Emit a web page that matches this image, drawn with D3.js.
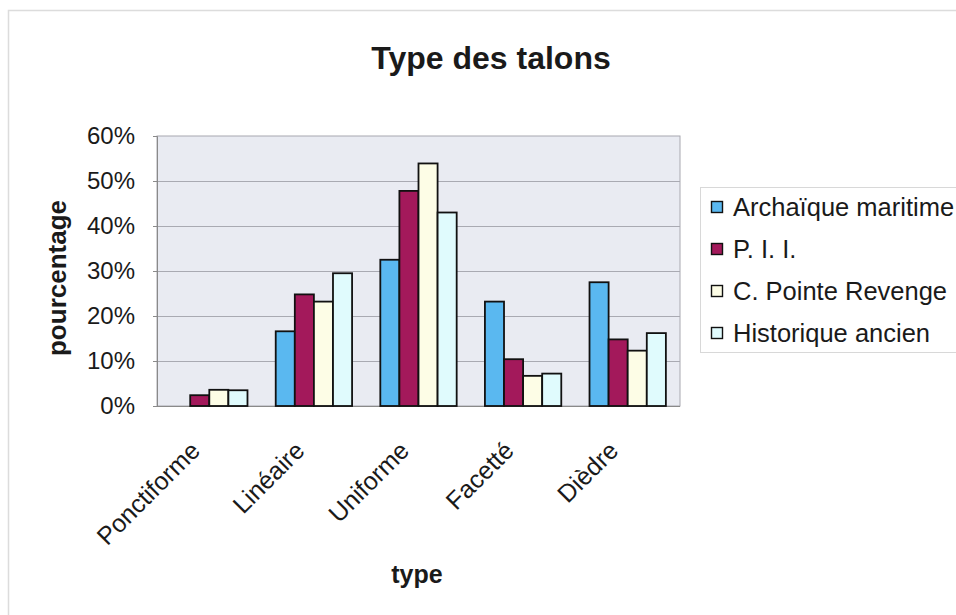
<!DOCTYPE html>
<html>
<head>
<meta charset="utf-8">
<script src="https://cdn.jsdelivr.net/npm/d3@7"></script>
<style>
  html, body { margin: 0; padding: 0; background: #fff; }
  svg { display: block; font-family: "Liberation Sans", Arial, sans-serif; }
</style>
</head>
<body>
<svg id="chart" width="956" height="615"></svg>
<script>
// Heel types (x categories)
const categories = ["Ponctiforme", "Linéaire", "Uniforme", "Facetté", "Dièdre"];
// Series names
const seriesNames = ["Archaïque maritime", "P. I. I.", "C. Pointe Revenge", "Historique ancien"];
// Percentages per series, in category order
const archaique = [0, 16.6, 32.5, 23.2, 27.5];
const pii       = [2.4, 24.8, 47.8, 10.4, 14.8];
const pointeRev = [3.6, 23.2, 53.9, 6.7, 12.3];
const historique = [3.5, 29.5, 43.0, 7.2, 16.2];
// Y axis ticks (percent)
const yTicks = [0, 10, 20, 30, 40, 50, 60];

const seriesValues = [archaique, pii, pointeRev, historique];
const colors = ["#5ab8f0", "#a3195b", "#fdfde6", "#e0fbfd"];

const svg = d3.select("#chart");

// outer chart frame
svg.append("rect")
  .attr("x", 8.5).attr("y", 10.5).attr("width", 960).attr("height", 610)
  .attr("fill", "none").attr("stroke", "#dcdcdc").attr("stroke-width", 1.5);

const plot = { left: 157, right: 680, top: 136, bottom: 406 };

const x0 = d3.scaleBand()
  .domain(categories)
  .range([plot.left, plot.right])
  .paddingInner(0.27)
  .paddingOuter(0.135);

const x1 = d3.scaleBand()
  .domain(d3.range(seriesNames.length))
  .range([0, x0.bandwidth()]);

const y = d3.scaleLinear().domain([0, 60]).range([plot.bottom, plot.top]);

// plot background
svg.append("rect")
  .attr("x", plot.left).attr("y", plot.top)
  .attr("width", plot.right - plot.left).attr("height", plot.bottom - plot.top)
  .attr("fill", "#e9ebf2").attr("stroke", "#a8a8b0").attr("stroke-width", 1);

// gridlines
svg.append("g")
  .selectAll("line")
  .data(yTicks.filter(d => d > 0 && d < 60))
  .join("line")
  .attr("x1", plot.left).attr("x2", plot.right)
  .attr("y1", d => y(d) + 0.5).attr("y2", d => y(d) + 0.5)
  .attr("stroke", "#a9aab2").attr("stroke-width", 1);

// y axis
const yAxis = d3.axisLeft(y)
  .tickValues(yTicks)
  .tickFormat(d => d + "%")
  .tickSize(4)
  .tickPadding(18);
const gy = svg.append("g").attr("transform", `translate(${plot.left},0)`).call(yAxis);
gy.select(".domain").attr("stroke", "#8a8a8a");
gy.selectAll(".tick line").attr("stroke", "#8a8a8a");
gy.selectAll(".tick text")
  .attr("font-size", 24).attr("fill", "#1a1a1a")
  .attr("font-family", "Liberation Sans, Arial, sans-serif");

// x axis baseline
svg.append("line")
  .attr("x1", plot.left).attr("x2", plot.right)
  .attr("y1", plot.bottom + 0.5).attr("y2", plot.bottom + 0.5)
  .attr("stroke", "#8a8a8a");

// bars
const groups = svg.append("g")
  .selectAll("g")
  .data(categories)
  .join("g")
  .attr("transform", c => `translate(${x0(c)},0)`);

groups.selectAll("rect")
  .data((c, ci) => seriesValues.map((vals, si) => ({ si, v: vals[ci] })))
  .join("rect")
  .filter(d => d.v > 0)
  .attr("x", d => x1(d.si))
  .attr("y", d => y(d.v))
  .attr("width", x1.bandwidth())
  .attr("height", d => y(0) - y(d.v))
  .attr("fill", d => colors[d.si])
  .attr("stroke", "#111")
  .attr("stroke-width", 1.8);

// x tick labels, rotated
svg.append("g")
  .selectAll("text")
  .data(categories)
  .join("text")
  .attr("transform", c => `translate(${x0(c) + x0.bandwidth() / 2 - 14},${plot.bottom + 40}) rotate(-45)`)
  .attr("text-anchor", "end")
  .attr("dy", "0.35em")
  .attr("font-size", 25)
  .attr("fill", "#1a1a1a")
  .text(c => c);

// title
svg.append("text")
  .attr("x", 491).attr("y", 69)
  .attr("text-anchor", "middle")
  .attr("font-size", 32).attr("font-weight", "bold").attr("fill", "#1a1a1a")
  .text("Type des talons");

// axis titles
svg.append("text")
  .attr("transform", "translate(66,278) rotate(-90)")
  .attr("text-anchor", "middle")
  .attr("font-size", 26).attr("font-weight", "bold").attr("fill", "#1a1a1a")
  .text("pourcentage");

svg.append("text")
  .attr("x", 417).attr("y", 583)
  .attr("text-anchor", "middle")
  .attr("font-size", 25).attr("font-weight", "bold").attr("fill", "#1a1a1a")
  .text("type");

// legend
const legend = svg.append("g");
legend.append("rect")
  .attr("x", 700.5).attr("y", 187.5).attr("width", 270).attr("height", 165)
  .attr("fill", "#fff").attr("stroke", "#d8d8d8");

const items = legend.selectAll("g")
  .data(seriesNames)
  .join("g")
  .attr("transform", (d, i) => `translate(711,${207 + i * 42})`);
items.append("rect")
  .attr("x", 0.5).attr("y", -5.5).attr("width", 11).attr("height", 11)
  .attr("fill", (d, i) => colors[i]).attr("stroke", "#111").attr("stroke-width", 1.4);
items.append("text")
  .attr("x", 22).attr("dy", "0.35em")
  .attr("font-size", 25.5).attr("fill", "#1a1a1a")
  .text(d => d);
</script>
</body>
</html>
